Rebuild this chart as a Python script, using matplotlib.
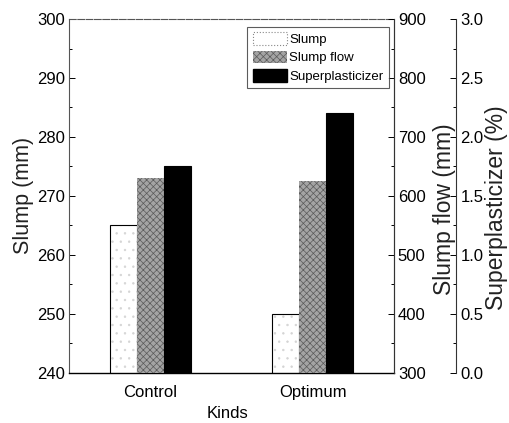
import matplotlib.pyplot as plt
import numpy as np
from matplotlib.patches import Patch
from matplotlib.ticker import MultipleLocator

plt.rcParams['font.family'] = ['Liberation Sans', 'DejaVu Sans']
plt.rcParams['hatch.linewidth'] = 0.5

kinds = ['Control', 'Optimum']
slump = [265, 250]              # mm
slump_flow = [631, 626]         # mm
superplasticizer = [1.75, 2.2]  # %

x = np.arange(1, len(kinds) + 1)
w = 1 / 6

fig = plt.figure(figsize=(5.1, 4.23), dpi=100)
ax = fig.add_axes([0.136, 0.119, 0.636, 0.836])
ax2 = ax.twinx()
ax3 = ax.twinx()
ax3.spines['right'].set_position(('axes', 1.193))

ax.bar(x - w, slump, w, color='white', edgecolor='#d4d4d4', hatch='..', lw=0)
ax.bar(x - w, slump, w, fill=False, edgecolor='black', lw=0.8)
ax2.bar(x, slump_flow, w, color='#a4a4a4', edgecolor='#5a5a5a', hatch='xxxxx', lw=0)
ax3.bar(x + w, superplasticizer, w, color='black', edgecolor='black', lw=0.8)

ax.set_xlim(0.5, 2.5)
ax.set_ylim(240, 300)
ax2.set_ylim(300, 900)
ax3.set_ylim(0, 3.0)

ax.set_xticks(x)
ax.set_xticklabels(kinds, fontsize=12)
ax.tick_params(axis='x', length=0, pad=9)

ax.yaxis.set_major_locator(MultipleLocator(10))
ax.yaxis.set_minor_locator(MultipleLocator(5))
ax2.yaxis.set_major_locator(MultipleLocator(100))
ax2.yaxis.set_minor_locator(MultipleLocator(50))
ax3.yaxis.set_major_locator(MultipleLocator(0.5))
ax3.yaxis.set_minor_locator(MultipleLocator(0.25))
ax3.yaxis.set_major_formatter(plt.FormatStrFormatter('%.1f'))

for a in (ax, ax2, ax3):
    a.tick_params(axis='y', which='major', direction='in', length=4, width=0.7,
                  labelsize=12, pad=3)
    a.tick_params(axis='y', which='minor', direction='in', length=2.5, width=0.7)

for s in ('top', 'left', 'right'):
    ax.spines[s].set_color('#555555')
    ax.spines[s].set_linewidth(0.8)
ax.spines['top'].set_linestyle((0, (6, 1.5)))
ax.spines['left'].set_linestyle((0, (1, 1)))
ax.spines['bottom'].set_linewidth(1.0)
ax2.spines['right'].set_color('#333333')
ax3.spines['right'].set_color('#333333')
for a in (ax2, ax3):
    for s in ('top', 'left', 'bottom'):
        a.spines[s].set_visible(False)

ax.set_ylabel('Slump (mm)', fontsize=15.5, color='#222222')
ax2.set_ylabel('Slump flow (mm)', fontsize=16.5, color='#222222')
ax3.set_ylabel('Superplasticizer (%)', fontsize=16.5, color='#222222')
ax.yaxis.set_label_coords(-0.108, 0.5)
ax2.yaxis.set_label_coords(1.122, 0.463)
ax3.yaxis.set_label_coords(1.282, 0.467)
ax.set_xlabel('Kinds', fontsize=12)
ax.xaxis.set_label_coords(0.488, -0.095)

handles = [Patch(facecolor='white', edgecolor='#888888', linestyle=':', lw=0.8),
           Patch(facecolor='#a4a4a4', edgecolor='#5a5a5a', hatch='xxxxx', lw=0),
           Patch(facecolor='black', edgecolor='black')]
leg = ax3.legend(handles, ['Slump', 'Slump flow', 'Superplasticizer'],
                 loc='upper right', bbox_to_anchor=(0.985, 0.978), fontsize=9.5,
                 frameon=True, fancybox=False, edgecolor='#333333',
                 handlelength=2.6, handleheight=1.1, handletextpad=0.2,
                 labelspacing=0.35, borderpad=0.4, borderaxespad=0)
leg.get_frame().set_linewidth(0.8)

fig.savefig('out.png', dpi=100)
